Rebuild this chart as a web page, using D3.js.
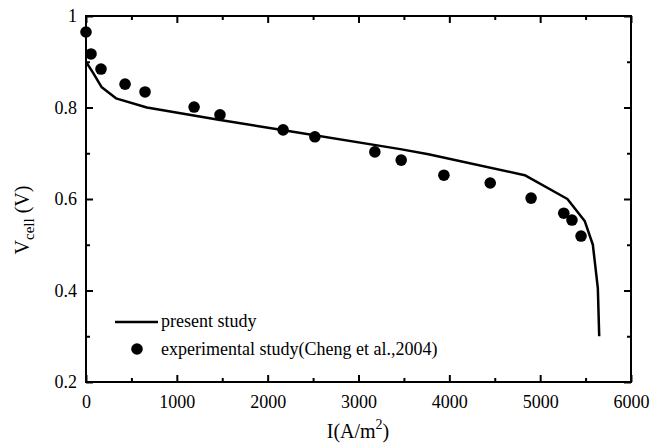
<!DOCTYPE html>
<html>
<head>
<meta charset="utf-8">
<script src="https://cdn.jsdelivr.net/npm/d3@7"></script>
<style>
  html, body { margin: 0; padding: 0; background: #fff; }
  svg, svg text { font-family: "Liberation Serif", "Times New Roman", Times, "DejaVu Serif", serif !important; }
</style>
</head>
<body>
<svg id="chart" width="665" height="444"></svg>
<script>
// ---- data ----
const modelI = [0, 80, 170, 330, 670, 1460, 2160, 3460, 3770, 4830, 5300, 5490, 5580, 5635, 5650];
const modelV = [0.90, 0.875, 0.845, 0.82, 0.80, 0.773, 0.751, 0.709, 0.698, 0.652, 0.600, 0.552, 0.50, 0.405, 0.30];
const expI = [0, 55, 165, 430, 650, 1190, 1475, 2170, 2520, 3180, 3470, 3940, 4450, 4900, 5260, 5350, 5450];
const expV = [0.965, 0.917, 0.884, 0.851, 0.834, 0.801, 0.784, 0.751, 0.736, 0.703, 0.685, 0.652, 0.635, 0.602, 0.569, 0.554, 0.519];
const xMajorTicks = [0, 1000, 2000, 3000, 4000, 5000, 6000];
const xMinorTicks = [500, 1500, 2500, 3500, 4500, 5500];
const yMajorTicks = [0.2, 0.4, 0.6, 0.8, 1.0];
const yMinorTicks = [0.3, 0.5, 0.7, 0.9];
const legendLabels = ["present study", "experimental study(Cheng et al.,2004)"];

// ---- layout ----
const FONT = '"Liberation Serif", "Times New Roman", Times, "DejaVu Serif", serif';
const svg = d3.select("#chart");
const L = 86, R = 631, T = 16, B = 382;
const x = d3.scaleLinear().domain([0, 6000]).range([L, R]);
const y = d3.scaleLinear().domain([0.2, 1.0]).range([B, T]);
const yFmt = d => d === 1 ? "1" : d3.format(".1f")(d);

function styleAxis(g) {
  g.attr("font-family", null).style("font-family", FONT);
  g.select(".domain").remove();
  g.selectAll("line").attr("stroke", "#000").attr("stroke-width", 2);
  g.selectAll("text").attr("fill", "#000").attr("font-size", 18).style("font-family", FONT);
}

// bottom
svg.append("g").attr("transform", `translate(0,${B})`)
  .call(d3.axisBottom(x).tickValues(xMajorTicks).tickSize(-7).tickPadding(13).tickFormat(d3.format("d")))
  .call(styleAxis);
svg.append("g").attr("transform", `translate(0,${B})`)
  .call(d3.axisBottom(x).tickValues(xMinorTicks).tickSize(-4).tickFormat(""))
  .call(styleAxis);
// top
svg.append("g").attr("transform", `translate(0,${T})`)
  .call(d3.axisTop(x).tickValues(xMajorTicks).tickSize(-7).tickFormat(""))
  .call(styleAxis);
svg.append("g").attr("transform", `translate(0,${T})`)
  .call(d3.axisTop(x).tickValues(xMinorTicks).tickSize(-4).tickFormat(""))
  .call(styleAxis);
// left
svg.append("g").attr("transform", `translate(${L},0)`)
  .call(d3.axisLeft(y).tickValues(yMajorTicks).tickSize(-7).tickPadding(9).tickFormat(yFmt))
  .call(styleAxis);
svg.append("g").attr("transform", `translate(${L},0)`)
  .call(d3.axisLeft(y).tickValues(yMinorTicks).tickSize(-4).tickFormat(""))
  .call(styleAxis);
// right
svg.append("g").attr("transform", `translate(${R},0)`)
  .call(d3.axisRight(y).tickValues(yMajorTicks).tickSize(-7).tickFormat(""))
  .call(styleAxis);
svg.append("g").attr("transform", `translate(${R},0)`)
  .call(d3.axisRight(y).tickValues(yMinorTicks).tickSize(-4).tickFormat(""))
  .call(styleAxis);

// frame
svg.append("rect").attr("x", L).attr("y", T).attr("width", R - L).attr("height", B - T)
  .attr("fill", "none").attr("stroke", "#000").attr("stroke-width", 2);

// model line
const modelData = modelI.map((d, i) => ({ I: d, V: modelV[i] }));
svg.append("path").datum(modelData)
  .attr("fill", "none").attr("stroke", "#000").attr("stroke-width", 2.5)
  .attr("stroke-linejoin", "round")
  .attr("d", d3.line().x(d => x(d.I)).y(d => y(d.V)));

// experimental points
const expData = expI.map((d, i) => ({ I: d, V: expV[i] }));
svg.append("g").selectAll("circle").data(expData).join("circle")
  .attr("cx", d => x(d.I)).attr("cy", d => y(d.V)).attr("r", 5.8).attr("fill", "#000");

// legend
const lg = svg.append("g").style("font-family", FONT);
lg.append("line").attr("x1", 115).attr("x2", 158).attr("y1", 322).attr("y2", 322)
  .attr("stroke", "#000").attr("stroke-width", 2.5);
lg.append("text").attr("x", 161).attr("y", 327).attr("font-size", 18).text(legendLabels[0]);
lg.append("circle").attr("cx", 137).attr("cy", 349).attr("r", 5.8).attr("fill", "#000");
lg.append("text").attr("x", 161).attr("y", 355).attr("font-size", 18).text(legendLabels[1]);

// axis titles
const xt = svg.append("text").attr("x", 358).attr("y", 438).attr("text-anchor", "middle")
  .attr("font-size", 20).style("font-family", FONT);
xt.append("tspan").text("I(A/m");
xt.append("tspan").attr("dy", -9).attr("font-size", 14).text("2");
xt.append("tspan").attr("dy", 9).text(")");

const yt = svg.append("text").attr("transform", "translate(29,220) rotate(-90)").attr("text-anchor", "middle")
  .attr("font-size", 20).style("font-family", FONT);
yt.append("tspan").text("V");
yt.append("tspan").attr("dy", 5).attr("font-size", 15).text("cell");
yt.append("tspan").attr("dy", -5).text(" (V)");
</script>
</body>
</html>
